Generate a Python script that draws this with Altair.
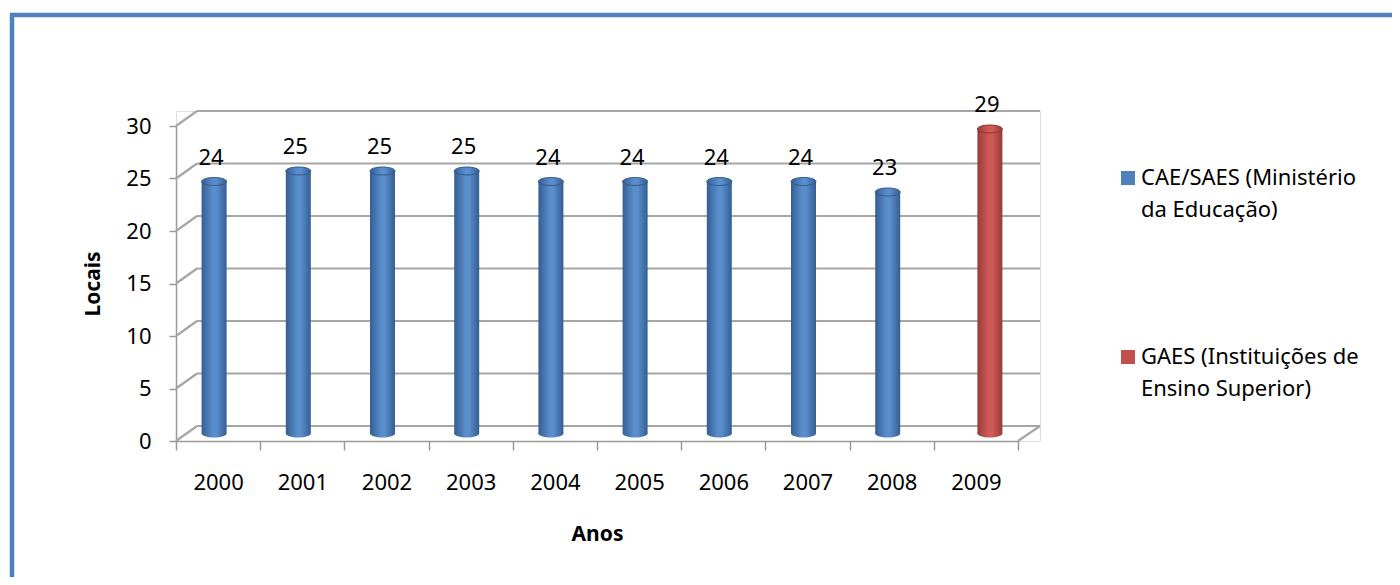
import altair as alt
import pandas as pd

# ---- data ----
years = ["2000", "2001", "2002", "2003", "2004", "2005", "2006", "2007", "2008", "2009"]
values = [24, 25, 25, 25, 24, 24, 24, 24, 23, 29]
series = ["CAE/SAES (Ministério da Educação)", "GAES (Instituições de Ensino Superior)"]
year_series = [series[0]] * 9 + [series[1]]
legend_lines = ["CAE/SAES (Ministério\nda Educação)", "GAES (Instituições de\nEnsino Superior)"]
colors = ["#4F81BD", "#C0504D"]
yticks = [0, 5, 10, 15, 20, 25, 30]

df = pd.DataFrame({"year": years, "value": values, "serie": year_series})
grid_df = pd.DataFrame({"value": yticks})
legend_df = pd.DataFrame({"serie": series, "label": legend_lines})

# ---- styling ----
FONT = "Noto Sans"
W, H = 864, 330
FRONT_W = 842
DX, DY = 21, -15          # 3-D depth offset (back wall)
MID = DY / 2              # bars stand at mid depth
GRID = "#A6A6A6"
AX = "#9A9A9A"

style = {
    series[0]: dict(xoff=-4, edge="#345E93", mid="#5A8DCB", capstroke="#34598A"),
    series[1]: dict(xoff=14, edge="#963B39", mid="#D05A57", capstroke="#8A3533"),
}

xscale = alt.Scale(domain=years, range=[0, FRONT_W], paddingInner=0, paddingOuter=0)
yscale = alt.Scale(domain=[0, 30], range=[H, 15])

xaxis = alt.Axis(labelFontSize=22, labelColor="black", labelPadding=22, labelAngle=0,
                 tickSize=9, tickColor=AX, tickWidth=1.5, domainColor=AX, domainWidth=1.5,
                 tickBand="extent", grid=False, titleFontSize=21, titleFontWeight="bold",
                 titleColor="black", titlePadding=30, labelFont=FONT, titleFont=FONT)
yaxis = alt.Axis(values=yticks, labelFontSize=22, labelColor="black", labelPadding=18,
                 tickSize=7, tickColor=AX, tickWidth=1.5, domainColor=AX, domainWidth=1.5,
                 grid=False, titleFontSize=21, titleFontWeight="bold", titleColor="black",
                 titlePadding=22, labelFont=FONT, titleFont=FONT)

X = alt.X("year:N", scale=xscale, axis=xaxis, title="Anos")
Y = alt.Y("value:Q", scale=yscale, axis=yaxis, title="Locais")

ellipse = "M -1 0 A 1 0.32 0 1 1 1 0 A 1 0.32 0 1 1 -1 0 Z"


def grad(edge, mid):
    return alt.Gradient(gradient="linear", x1=0, x2=1, y1=0, y2=0,
                        stops=[alt.GradientStop(color=edge, offset=0),
                               alt.GradientStop(color=mid, offset=0.45),
                               alt.GradientStop(color=mid, offset=0.6),
                               alt.GradientStop(color=edge, offset=1)])


# back wall gridlines and side diagonals
grid = alt.Chart(grid_df).mark_rule(color=GRID, strokeWidth=2.2, yOffset=DY).encode(
    x=alt.value(DX), x2=alt.value(W), y=Y)
diag = alt.Chart(grid_df).mark_rule(color=GRID, strokeWidth=2.2, y2Offset=DY).encode(
    x=alt.value(0), x2=alt.value(DX), y=Y, y2="value:Q")
floor_right = alt.Chart(grid_df).transform_filter("datum.value == 0").mark_rule(
    color=GRID, strokeWidth=2.2, y2Offset=DY).encode(
    x=alt.value(FRONT_W), x2=alt.value(W), y=Y, y2="value:Q")

layers = [grid, diag, floor_right]

for s in series:
    st = style[s]
    d = alt.Chart(df).transform_filter(alt.datum.serie == s)
    g = grad(st["edge"], st["mid"])
    bottom = d.mark_point(shape=ellipse, size=625, filled=True, fill=g, opacity=1,
                          strokeWidth=0, xOffset=st["xoff"], yOffset=MID).encode(
        x=X, y=alt.Y("zero:Q", scale=yscale, axis=yaxis, title="Locais")).transform_calculate(zero="0")
    body = d.mark_bar(width=25, fill=g, xOffset=st["xoff"], yOffset=MID, y2Offset=MID).encode(
        x=X, y=Y, y2=alt.datum(0))
    top = d.mark_point(shape=ellipse, size=625, filled=True, fill=g, stroke=st["capstroke"],
                       strokeWidth=1, opacity=1, xOffset=st["xoff"], yOffset=MID).encode(x=X, y=Y)
    lab = d.mark_text(font=FONT, fontSize=22, color="black", baseline="middle",
                      xOffset=st["xoff"] - 3, yOffset=MID - 24).encode(
        x=X, y=Y, text="value:Q")
    layers += [bottom, body, top, lab]

main = alt.layer(*layers)

# manual legend
ly = alt.Y("serie:N", scale=alt.Scale(type="point", padding=0, domain=series, range=[67, 246]),
           axis=None)
leg_sq = alt.Chart(legend_df).mark_square(size=196, opacity=1).encode(
    x=alt.value(952), y=ly,
    color=alt.Color("serie:N", scale=alt.Scale(domain=series, range=colors), legend=None))
leg_tx = alt.Chart(legend_df).mark_text(font=FONT, fontSize=22, color="black", align="left",
                                        baseline="middle", lineBreak="\n", lineHeight=32).encode(
    x=alt.value(965), y=ly, text="label:N")
legend = alt.layer(leg_sq, leg_tx)

# outer frame
frame = alt.Chart(alt.Data(values=[{}])).mark_rect(
    fillOpacity=0, stroke="#4F81BD", strokeWidth=4.5).encode(
    x=alt.value(-164), x2=alt.value(1260), y=alt.value(-96), y2=alt.value(520))

chart = alt.layer(frame, main, legend).resolve_scale(y="independent").properties(
    width=W, height=H,
    autosize=alt.AutoSizeParams(type="none"),
    padding={"left": 168, "top": 103, "right": 1384 - 168 - W, "bottom": 569 - 103 - H},
    background="white",
).configure_view(stroke=None).configure(font=FONT)

chart.save("out.html", embed_options={"renderer": "svg", "actions": False})
